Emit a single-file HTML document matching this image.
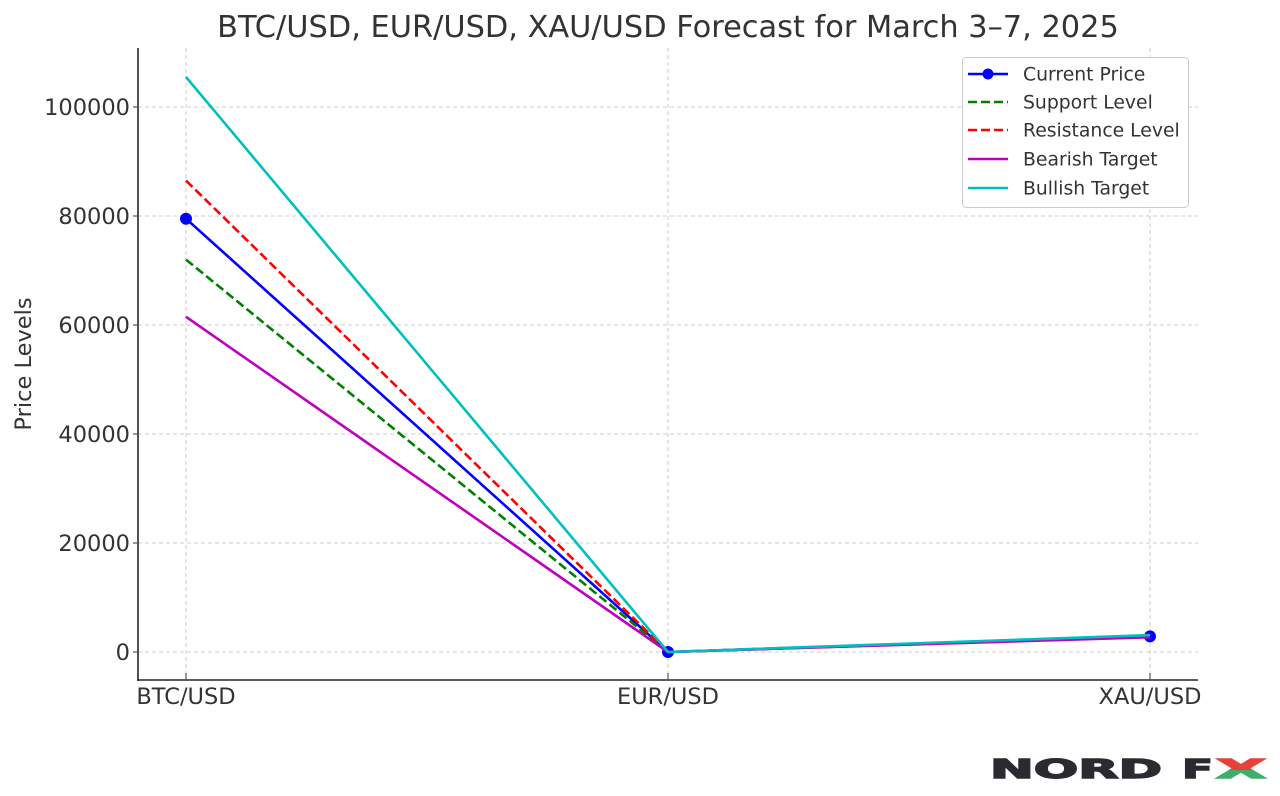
<!DOCTYPE html>
<html>
<head>
<meta charset="utf-8">
<style>
html,body{margin:0;padding:0;background:#fff;}
svg{display:block;}
text{font-family:"DejaVu Sans","Liberation Sans",sans-serif;fill:#333;}
</style>
</head>
<body>
<svg width="1280" height="796" viewBox="0 0 1280 796" xmlns="http://www.w3.org/2000/svg">
<defs>
<linearGradient id="xg" x1="0" y1="0" x2="0" y2="1">
<stop offset="0" stop-color="#e5403a"/>
<stop offset="0.5" stop-color="#e5403a"/>
<stop offset="0.5" stop-color="#3fae6d"/>
<stop offset="1" stop-color="#3fae6d"/>
</linearGradient>
</defs>
<rect width="1280" height="796" fill="#fff"/>
<!-- title -->
<text x="668" y="37" font-size="30.4" text-anchor="middle">BTC/USD, EUR/USD, XAU/USD Forecast for March 3–7, 2025</text>

<!-- grid -->
<g stroke="#cccccc" stroke-width="1" stroke-dasharray="4,3" fill="none">
<line x1="138" y1="652" x2="1198" y2="652"/>
<line x1="138" y1="543" x2="1198" y2="543"/>
<line x1="138" y1="434" x2="1198" y2="434"/>
<line x1="138" y1="325" x2="1198" y2="325"/>
<line x1="138" y1="216" x2="1198" y2="216"/>
<line x1="138" y1="107" x2="1198" y2="107"/>
<line x1="186" y1="48" x2="186" y2="680"/>
<line x1="668" y1="48" x2="668" y2="680"/>
<line x1="1150" y1="48" x2="1150" y2="680"/>
</g>

<!-- spines -->
<g stroke="#262626" stroke-width="1.6" fill="none">
<line x1="138" y1="48" x2="138" y2="681"/>
<line x1="137.2" y1="680" x2="1198" y2="680"/>
</g>
<!-- ticks -->
<g stroke="#555" stroke-width="1.2">
<line x1="186" y1="673" x2="186" y2="680"/>
<line x1="668" y1="673" x2="668" y2="680"/>
<line x1="1150" y1="673" x2="1150" y2="680"/>
<line x1="133" y1="652" x2="138" y2="652"/>
<line x1="133" y1="543" x2="138" y2="543"/>
<line x1="133" y1="434" x2="138" y2="434"/>
<line x1="133" y1="325" x2="138" y2="325"/>
<line x1="133" y1="216" x2="138" y2="216"/>
<line x1="133" y1="107" x2="138" y2="107"/>
</g>

<!-- y tick labels -->
<g font-size="22.5" text-anchor="end">
<text x="130" y="660">0</text>
<text x="130" y="551">20000</text>
<text x="130" y="442">40000</text>
<text x="130" y="333">60000</text>
<text x="130" y="224">80000</text>
<text x="130" y="115">100000</text>
</g>
<!-- x tick labels -->
<g font-size="22.5" text-anchor="middle">
<text x="186" y="704">BTC/USD</text>
<text x="668" y="704">EUR/USD</text>
<text x="1150" y="704">XAU/USD</text>
</g>
<!-- y label -->
<text transform="translate(31,364) rotate(-90)" font-size="22.5" text-anchor="middle">Price Levels</text>

<!-- series -->
<g fill="none" stroke-width="2.6" stroke-linejoin="round">
<polyline points="186,218.7 668,652 1150,636.4" stroke="#0000ff"/>
<g fill="#0000ff" stroke="none">
<circle cx="186" cy="218.7" r="6"/>
<circle cx="668" cy="652" r="6"/>
<circle cx="1150" cy="636.4" r="6"/>
</g>
<polyline points="186,259.6 668,652 1150,636.7" stroke="#008000" stroke-dasharray="9,4"/>
<polyline points="186,180.6 668,652 1150,635.6" stroke="#ff0000" stroke-dasharray="9,4"/>
<polyline points="186,316.8 668,652 1150,637.3" stroke="#bf00bf"/>
<polyline points="186,77 668,652 1150,635.1" stroke="#00bfbf"/>
</g>

<!-- legend -->
<rect x="962.5" y="57.5" width="226" height="150" rx="4" ry="4" fill="#fff" fill-opacity="0.85" stroke="#cccccc" stroke-width="1"/>
<g stroke-width="2.6" fill="none">
<line x1="968" y1="74" x2="1008" y2="74" stroke="#0000ff"/>
<line x1="968" y1="102" x2="1008" y2="102" stroke="#008000" stroke-dasharray="9,4"/>
<line x1="968" y1="130" x2="1008" y2="130" stroke="#ff0000" stroke-dasharray="9,4"/>
<line x1="968" y1="159" x2="1008" y2="159" stroke="#bf00bf"/>
<line x1="968" y1="188" x2="1008" y2="188" stroke="#00bfbf"/>
</g>
<circle cx="988" cy="74" r="5.5" fill="#0000ff"/>
<g font-size="18.8">
<text x="1023" y="80.5">Current Price</text>
<text x="1023" y="108.5">Support Level</text>
<text x="1023" y="136.5">Resistance Level</text>
<text x="1023" y="165.5">Bearish Target</text>
<text x="1023" y="194.5">Bullish Target</text>
</g>

<!-- logo -->
<text x="990" y="778" font-family="Liberation Sans, sans-serif" font-weight="bold" font-size="26" textLength="172" lengthAdjust="spacingAndGlyphs" style="fill:#2b2a31;stroke:#2b2a31;stroke-width:1.4">NORD</text>
<text x="1182" y="778" font-family="Liberation Sans, sans-serif" font-weight="bold" font-size="26" textLength="31" lengthAdjust="spacingAndGlyphs" style="fill:#2b2a31;stroke:#2b2a31;stroke-width:1.4">F</text>
<text x="1216" y="778" font-family="Liberation Sans, sans-serif" font-weight="bold" font-size="26" textLength="50" lengthAdjust="spacingAndGlyphs" style="fill:url(#xg);stroke:url(#xg);stroke-width:1.4">X</text>
</svg>
</body>
</html>
